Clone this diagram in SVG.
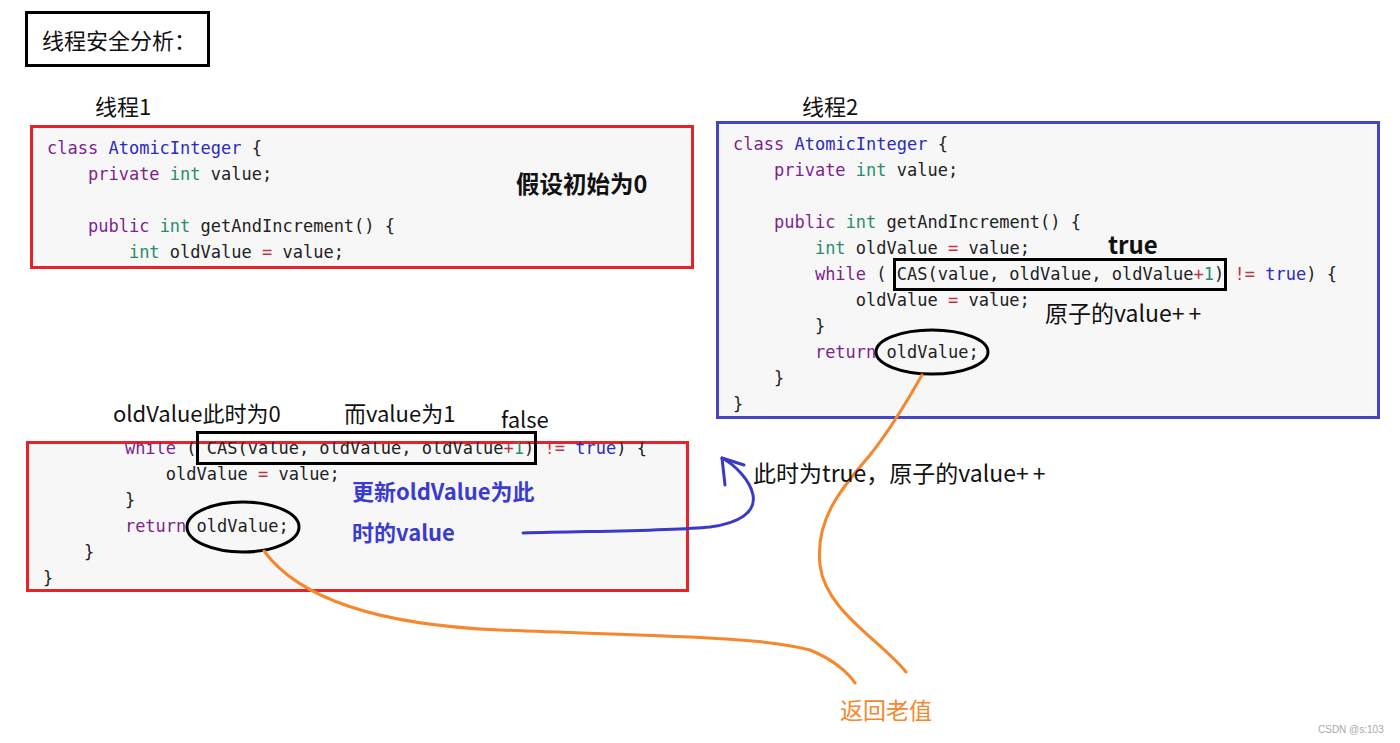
<svg xmlns="http://www.w3.org/2000/svg" width="1400" height="743" viewBox="0 0 1400 743">
<style>
.lbl{font-family:"Noto Sans CJK SC","Noto Sans",sans-serif;font-size:22px;fill:#111}
.bold{font-weight:bold}
.code{font-family:"DejaVu Sans Mono","Liberation Mono",monospace;font-size:17px;fill:#222}
.kw{fill:#7f1f8f}.ty{fill:#2a8c6a}.cl{fill:#2b2bc0}.op{fill:#c8323c}
.pp{letter-spacing:4px}
.redbox{fill:#f7f7f7;stroke:#e3242b;stroke-width:3}
.bluebox{fill:#f7f7f7;stroke:#4545c5;stroke-width:3}
.mark{fill:none;stroke:#000;stroke-width:3}
.orange{fill:none;stroke:#f5872d;stroke-width:3;stroke-linecap:round}
.blue{fill:none;stroke:#3a3ac8;stroke-width:3;stroke-linecap:round;stroke-linejoin:round}
</style>
<defs>
<clipPath id="clipLow"><rect x="27" y="442" width="662" height="150"/></clipPath>
</defs>
<rect width="1400" height="743" fill="#fff"/>

<g id="title">
<rect x="26.5" y="12.5" width="182" height="53" fill="#fff" stroke="#000" stroke-width="3"/>
<text class="lbl" x="42" y="49">线程安全分析：</text>
</g>

<g id="thread1-top">
<text class="lbl" x="95" y="115">线程1</text>
<rect class="redbox" x="31.5" y="126.5" width="661" height="141"/>
<text class="code" xml:space="preserve" x="47" y="154"><tspan class="kw">class</tspan> <tspan class="cl">AtomicInteger</tspan> {</text>
<text class="code" xml:space="preserve" x="47" y="180">    <tspan class="kw">private</tspan> <tspan class="ty">int</tspan> value;</text>
<text class="code" xml:space="preserve" x="47" y="232">    <tspan class="kw">public</tspan> <tspan class="ty">int</tspan> getAndIncrement() {</text>
<text class="code" xml:space="preserve" x="47" y="258">        <tspan class="ty">int</tspan> oldValue <tspan class="op">=</tspan> value;</text>
<text class="lbl bold" x="516" y="193" style="font-size:23.5px">假设初始为0</text>
</g>

<g id="thread2">
<text class="lbl" x="802" y="115">线程2</text>
<rect class="bluebox" x="717.5" y="122.5" width="661" height="295"/>
<text class="code" xml:space="preserve" x="733" y="150"><tspan class="kw">class</tspan> <tspan class="cl">AtomicInteger</tspan> {</text>
<text class="code" xml:space="preserve" x="733" y="176">    <tspan class="kw">private</tspan> <tspan class="ty">int</tspan> value;</text>
<text class="code" xml:space="preserve" x="733" y="228">    <tspan class="kw">public</tspan> <tspan class="ty">int</tspan> getAndIncrement() {</text>
<text class="code" xml:space="preserve" x="733" y="254">        <tspan class="ty">int</tspan> oldValue <tspan class="op">=</tspan> value;</text>
<text class="code" xml:space="preserve" x="733" y="280">        <tspan class="kw">while</tspan> ( CAS(value, oldValue, oldValue<tspan class="op">+</tspan><tspan class="ty">1</tspan>) <tspan class="op">!=</tspan> <tspan class="cl">true</tspan>) {</text>
<text class="code" xml:space="preserve" x="733" y="306">            oldValue <tspan class="op">=</tspan> value;</text>
<text class="code" xml:space="preserve" x="733" y="332">        }</text>
<text class="code" xml:space="preserve" x="733" y="358">        <tspan class="kw">return</tspan> oldValue;</text>
<text class="code" xml:space="preserve" x="733" y="384">    }</text>
<text class="code" xml:space="preserve" x="733" y="410">}</text>
<rect class="mark" x="894.5" y="259.5" width="331" height="30"/>
<ellipse class="mark" cx="932" cy="352" rx="56" ry="22"/>
<text class="lbl bold" x="1108" y="254" style="font-size:24px">true</text>
<text class="lbl" x="1045" y="322" style="font-size:23px">原子的value<tspan class="pp">++</tspan></text>
</g>

<g id="thread1-bottom">
<text class="lbl" x="113" y="422">oldValue此时为0</text>
<text class="lbl" x="344" y="422">而value为1</text>
<text class="lbl" x="501" y="428">false</text>
<rect class="redbox" x="27.5" y="442.5" width="660" height="148"/>
<g clip-path="url(#clipLow)">
<text class="code" xml:space="preserve" x="43" y="454">        <tspan class="kw">while</tspan> ( CAS(value, oldValue, oldValue<tspan class="op">+</tspan><tspan class="ty">1</tspan>) <tspan class="op">!=</tspan> <tspan class="cl">true</tspan>) {</text>
</g>
<text class="code" xml:space="preserve" x="43" y="480">            oldValue <tspan class="op">=</tspan> value;</text>
<text class="code" xml:space="preserve" x="43" y="506">        }</text>
<text class="code" xml:space="preserve" x="43" y="532">        <tspan class="kw">return</tspan> oldValue;</text>
<text class="code" xml:space="preserve" x="43" y="558">    }</text>
<text class="code" xml:space="preserve" x="43" y="584">}</text>
<rect class="mark" x="197.5" y="432.5" width="338" height="31"/>
<ellipse class="mark" cx="243" cy="527" rx="56" ry="25"/>
<text class="lbl bold" x="352" y="500" style="fill:#3b3bd0">更新oldValue为此</text>
<text class="lbl bold" x="352" y="541" style="fill:#3b3bd0">时的value</text>
</g>

<g id="connectors">
<path class="blue" d="M523,533 C600,531 670,531 710,527 C740,523 756,512 753,495 C750,480 735,465 722,458"/>
<path class="blue" d="M722,458 L725,485 M722,458 L744,465"/>
<path class="orange" d="M264,551 C300,600 380,625 500,630 C650,636 760,636 810,650 C835,660 850,675 855,683"/>
<path class="orange" d="M922,375 C905,405 890,430 870,455 C840,490 815,520 820,565 C825,610 880,640 906,672"/>
</g>

<g id="notes">
<text class="lbl" x="753" y="482" style="font-size:23px">此时为true，原子的value<tspan class="pp">++</tspan></text>
<text class="lbl" x="840" y="719" style="font-size:23px;fill:#f5872d">返回老值</text>
<text x="1318" y="733" style="font-family:'Liberation Sans',sans-serif;font-size:10px;fill:#aaa">CSDN @s:103</text>
</g>
</svg>
